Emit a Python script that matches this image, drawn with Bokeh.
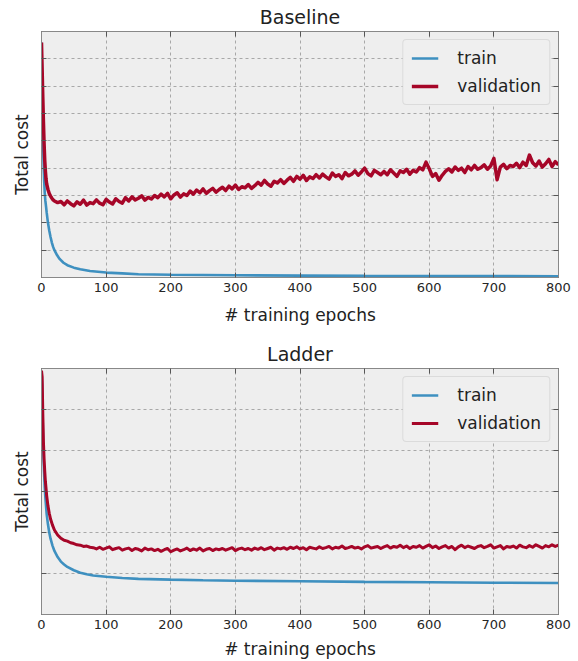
from bokeh.plotting import figure
from bokeh.layouts import column
from bokeh.models import Range1d, FixedTicker, LinearAxis
from bokeh.embed import file_html
from bokeh.resources import INLINE

FONT = "DejaVu Sans"
BLUE = "#348ABD"
RED = "#A60628"

# ---------------- data ----------------
x_ticks = [0, 100, 200, 300, 400, 500, 600, 700, 800]
baseline_y_ticks = [1, 2, 3, 4, 5, 6, 7, 8]
ladder_y_ticks = [1, 2, 3, 4, 5]

# Baseline - train
baseline_train_epochs = [0, 1, 2, 3, 4, 5, 6, 7, 8, 10, 12, 14, 16, 18, 20, 24, 28, 34, 40,
                         50, 60, 75, 100, 125, 150, 200, 250, 300, 400, 500, 600, 700, 800]
baseline_train_cost = [8.6, 7.0, 5.6, 4.4, 3.6, 3.1, 2.8, 2.6, 2.38, 2.0, 1.72, 1.48, 1.28, 1.12,
                       1.0, 0.82, 0.68, 0.54, 0.45, 0.36, 0.30, 0.24, 0.18, 0.15, 0.12, 0.10,
                       0.09, 0.08, 0.07, 0.06, 0.055, 0.05, 0.045]

# Baseline - validation
baseline_val_epochs = [0, 1, 2, 3, 4, 5, 6, 7, 8, 10, 12, 14, 16, 18, 20, 25] + list(range(30, 801, 5))
baseline_val_cost = [
    8.6, 7.6, 6.6, 5.7, 4.9, 4.3, 3.9, 3.6, 3.42, 3.22, 3.07, 2.98, 2.90, 2.84, 2.80, 2.74,
    2.78, 2.66, 2.80, 2.70, 2.62, 2.77, 2.68, 2.83, 2.65, 2.74,
    2.70, 2.84, 2.72, 2.66, 2.86, 2.76, 2.69, 2.88, 2.78, 2.72,
    2.92, 2.80, 2.95, 2.84, 2.90, 2.99, 2.83, 2.93, 2.87, 3.00,
    2.92, 3.05, 2.95, 3.08, 2.88, 3.02, 3.10, 2.94, 3.06, 3.00,
    3.16, 3.05, 3.20, 3.10, 3.24, 3.08, 3.18, 3.26, 3.12, 3.22,
    3.30, 3.18, 3.34, 3.24, 3.38, 3.22, 3.32, 3.28, 3.40, 3.26,
    3.36, 3.48, 3.38, 3.55, 3.42, 3.34, 3.52, 3.46, 3.58, 3.44,
    3.56, 3.66, 3.52, 3.70, 3.60, 3.74, 3.55, 3.68, 3.62, 3.76,
    3.64, 3.78, 3.68, 3.60, 3.82, 3.70, 3.76, 3.62, 3.84, 3.72,
    3.78, 3.90, 3.74, 3.86, 4.00, 3.80, 3.72, 3.92, 3.84, 3.76,
    3.88, 3.76, 3.94, 3.82, 3.70, 3.90, 3.84, 3.96, 3.78, 3.92,
    3.86, 4.02, 3.94, 4.22, 3.98, 3.70, 3.80, 3.56, 3.74, 3.88,
    3.98, 3.86, 4.04, 3.92, 4.00, 3.84, 4.06, 3.94, 4.10, 3.96,
    4.02, 4.12, 3.96, 4.08, 4.36, 3.58, 4.04, 4.14, 3.98, 4.10,
    4.06, 4.18, 4.02, 4.22, 4.10, 4.48, 4.20, 4.08, 4.26, 4.04,
    4.16, 4.32, 4.06, 4.24, 4.12,
]

# Ladder - train
ladder_train_epochs = [0, 1, 2, 3, 4, 5, 6, 8, 10, 12, 14, 17, 20, 25, 30, 35, 40, 50, 60, 70,
                       80, 100, 125, 150, 200, 250, 300, 400, 500, 600, 700, 800]
ladder_train_cost = [5.9, 5.6, 4.6, 3.9, 3.45, 3.1, 2.85, 2.45, 2.2, 2.0, 1.85, 1.68, 1.55, 1.4,
                     1.29, 1.22, 1.16, 1.08, 1.02, 0.98, 0.95, 0.92, 0.89, 0.87, 0.85, 0.835,
                     0.825, 0.81, 0.795, 0.785, 0.775, 0.77]

# Ladder - validation
ladder_val_epochs = [0, 1, 2, 3, 4, 5, 6, 8, 10, 12, 14, 17, 20, 25] + list(range(30, 801, 5))
ladder_val_cost = [
    5.95, 5.8, 4.9, 4.2, 3.8, 3.5, 3.25, 2.9, 2.65, 2.47, 2.33, 2.18, 2.06, 1.94,
    1.86, 1.81, 1.79, 1.75, 1.73, 1.70, 1.69, 1.66, 1.67, 1.64,
    1.63, 1.60, 1.64, 1.59, 1.62, 1.65, 1.58, 1.61, 1.63, 1.57,
    1.60, 1.62, 1.56, 1.61, 1.59, 1.55, 1.62, 1.58, 1.60, 1.56,
    1.59, 1.54, 1.58, 1.61, 1.53, 1.57, 1.60, 1.55, 1.58, 1.62,
    1.56, 1.60, 1.57, 1.62, 1.55, 1.59, 1.61, 1.56, 1.60, 1.58,
    1.61, 1.57, 1.60, 1.63, 1.56, 1.60, 1.62, 1.58, 1.61, 1.57,
    1.62, 1.59, 1.63, 1.58, 1.61, 1.64, 1.57, 1.62, 1.60, 1.63,
    1.59, 1.64, 1.61, 1.65, 1.60, 1.63, 1.58, 1.64, 1.62, 1.60,
    1.65, 1.61, 1.63, 1.66, 1.60, 1.64, 1.62, 1.67, 1.61, 1.63,
    1.66, 1.62, 1.64, 1.60, 1.65, 1.68, 1.62, 1.64, 1.66, 1.61,
    1.65, 1.68, 1.62, 1.66, 1.64, 1.69, 1.63, 1.67, 1.61, 1.66,
    1.64, 1.68, 1.62, 1.66, 1.70, 1.63, 1.67, 1.61, 1.65, 1.68,
    1.62, 1.66, 1.58, 1.65, 1.69, 1.63, 1.67, 1.64, 1.61, 1.66,
    1.68, 1.63, 1.66, 1.70, 1.62, 1.65, 1.68, 1.60, 1.66, 1.64,
    1.67, 1.62, 1.69, 1.65, 1.63, 1.68, 1.64, 1.70, 1.66, 1.62,
    1.68, 1.65, 1.70, 1.66, 1.69,
]


def style_axis(ax, ticks, labels=True):
    ax.axis_line_color = "#888888"
    ax.major_tick_line_color = "#555555"
    ax.major_tick_in = 5
    ax.major_tick_out = 0
    ax.minor_tick_line_color = None
    ax.major_label_text_font = FONT
    ax.major_label_text_color = "#262626"
    ax.axis_label_text_font = FONT
    ax.axis_label_text_font_size = "17px"
    ax.axis_label_text_font_style = "normal"
    ax.axis_label_text_color = "#222222"
    if labels:
        ax.major_label_text_font_size = "13px"
        ax.major_label_standoff = 5
    else:
        ax.major_label_text_font_size = "1px"
        ax.major_label_standoff = 0
        ax.major_label_overrides = {t: "" for t in ticks}


def make_panel(title, ymax, yticks, train_x, train_y, val_x, val_y,
               height, b_left, b_right, b_top, b_bottom, xlabel_standoff, red_width):
    p = figure(width=578, height=height, output_backend="svg", toolbar_location=None,
               x_range=Range1d(0, 800), y_range=Range1d(0, ymax),
               min_border_left=b_left, min_border_right=b_right,
               min_border_top=b_top, min_border_bottom=b_bottom)
    p.title.text = title
    p.title.align = "center"
    p.title.text_font = FONT
    p.title.text_font_size = "19px"
    p.title.text_font_style = "normal"
    p.title.text_color = "#222222"
    p.title.standoff = 7

    p.background_fill_color = "#eeeeee"
    p.border_fill_color = "white"
    p.outline_line_color = "#888888"
    p.outline_line_width = 1

    p.xaxis.ticker = FixedTicker(ticks=x_ticks)
    p.yaxis.ticker = FixedTicker(ticks=yticks)
    p.xaxis.axis_label = "# training epochs"
    p.yaxis.axis_label = "Total cost"
    for ax in p.xaxis:
        style_axis(ax, x_ticks, labels=True)
        ax.axis_label_standoff = xlabel_standoff
    for ax in p.yaxis:
        style_axis(ax, yticks, labels=False)
        ax.axis_label_standoff = 10

    top_ax = LinearAxis(ticker=FixedTicker(ticks=x_ticks))
    style_axis(top_ax, x_ticks, labels=False)
    p.add_layout(top_ax, "above")
    right_ax = LinearAxis(ticker=FixedTicker(ticks=yticks))
    style_axis(right_ax, yticks, labels=False)
    p.add_layout(right_ax, "right")

    for g in (p.xgrid, p.ygrid):
        g.grid_line_color = "#a8a8a8"
        g.grid_line_dash = "3 3"
        g.grid_line_width = 1

    p.line(train_x, train_y, color=BLUE, line_width=2.6, line_alpha=0.95, legend_label="train")
    p.line(val_x, val_y, color=RED, line_width=red_width, line_join="round",
           legend_label="validation")

    lg = p.legend[0]
    lg.location = "top_right"
    lg.margin = 8
    lg.padding = 8
    lg.spacing = 8
    lg.glyph_width = 27
    lg.glyph_height = 20
    lg.label_height = 20
    lg.label_standoff = 19
    lg.label_text_font = FONT
    lg.label_text_font_size = "17px"
    lg.label_text_color = "#222222"
    lg.background_fill_color = "#efefef"
    lg.background_fill_alpha = 1.0
    lg.border_line_color = "#c8c8c8"
    lg.border_radius = 4
    return p


p_top = make_panel("Baseline", 9, baseline_y_ticks,
                   baseline_train_epochs, baseline_train_cost,
                   baseline_val_epochs, baseline_val_cost,
                   height=330, b_left=41, b_right=18, b_top=31, b_bottom=53,
                   xlabel_standoff=10, red_width=3.5)
p_bot = make_panel("Ladder", 6, ladder_y_ticks,
                   ladder_train_epochs, ladder_train_cost,
                   ladder_val_epochs, ladder_val_cost,
                   height=331, b_left=39, b_right=20, b_top=38, b_bottom=47,
                   xlabel_standoff=7, red_width=3)

layout = column(p_top, p_bot, spacing=0)
open("out.html", "w").write(file_html(layout, INLINE))
